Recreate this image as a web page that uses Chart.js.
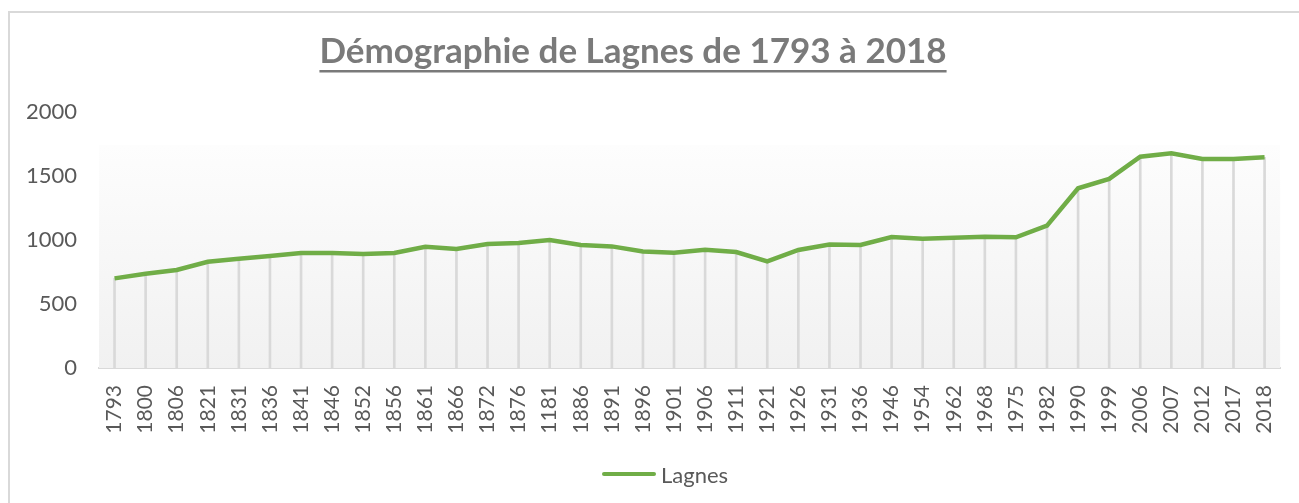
<!DOCTYPE html>
<html lang="fr">
<head>
<meta charset="utf-8">
<title>Démographie de Lagnes</title>
<script src="https://cdn.jsdelivr.net/npm/chart.js@4.4.0/dist/chart.umd.min.js"></script>
<style>
    html, body { margin: 0; padding: 0; background: #fff; overflow: hidden; }
    #frame {
        position: absolute; left: 8px; top: 11px; width: 1400px; height: 600px;
        border-left: 2px solid #d9d9d9; border-top: 2px solid #d9d9d9;
    }
    /* shifted left a little so the title lands where it sits in the original */
    #wrap { position: absolute; left: -16px; top: 0; width: 1315px; height: 503px; }
    #legend {
        position: absolute; left: 602px; top: 460px; height: 28px;
        display: flex; align-items: center;
        font-family: Lato, sans-serif; font-size: 22px; color: #595959;
    }
    #legend .swatch {
        display: inline-block; width: 54px; height: 4px; border-radius: 2px;
        margin-right: 5px; background: #70ad47;
    }
</style>
</head>
<body>
<div id="frame"></div>
<div id="wrap"><canvas id="demoChart"></canvas></div>
<div id="legend"></div>
<script>
// ========================================
// Data
// ========================================

const years = [
    '1793', '1800', '1806', '1821', '1831', '1836', '1841', '1846', '1852', '1856',
    '1861', '1866', '1872', '1876', '1181', '1886', '1891', '1896', '1901', '1906',
    '1911', '1921', '1926', '1931', '1936', '1946', '1954', '1962', '1968', '1975',
    '1982', '1990', '1999', '2006', '2007', '2012', '2017', '2018'
];

const population = [
    700, 737, 766, 830, 854, 875, 898, 898, 890, 898,
    947, 930, 969, 977, 1000, 961, 950, 911, 901, 924,
    906, 833, 922, 964, 961, 1023, 1010, 1018, 1026, 1021,
    1112, 1404, 1477, 1651, 1677, 1633, 1633, 1646
];

const yTicks = [0, 500, 1000, 1500, 2000];

const seriesName = 'Lagnes';
const titleText = 'Démographie de Lagnes de 1793 à 2018';

// ========================================
// Chart Logic
// ========================================

const GREEN = '#70ad47';
const TEXT = '#595959';

// light gradient behind the plot, like the Excel plot area fill
const plotFill = {
    id: 'plotFill',
    beforeDatasetsDraw(chart) {
        const { ctx, chartArea: a } = chart;
        const top = a.top + 33;
        const g = ctx.createLinearGradient(0, top, 0, a.bottom);
        g.addColorStop(0, '#fdfdfd');
        g.addColorStop(1, '#f1f1f1');
        ctx.save();
        ctx.fillStyle = g;
        ctx.fillRect(a.left, top, a.right - a.left, a.bottom - top);
        ctx.restore();
    }
};

// underline under the title text
const titleUnderline = {
    id: 'titleUnderline',
    afterDraw(chart) {
        const tb = chart.titleBlock;
        if (!tb) return;
        const { ctx } = chart;
        const opts = chart.options.plugins.title;
        ctx.save();
        ctx.font = `bold ${opts.font.size}px ${opts.font.family}`;
        const w = ctx.measureText(titleText).width;
        const cx = (tb.left + tb.right) / 2;
        const y = tb.top + opts.padding.top + opts.font.size * 1.2 / 2 + opts.font.size * 0.55;
        ctx.strokeStyle = opts.color;
        ctx.lineWidth = 2.5;
        ctx.beginPath();
        ctx.moveTo(cx - w / 2, y);
        ctx.lineTo(cx + w / 2, y);
        ctx.stroke();
        ctx.restore();
    }
};

// simple legend under the chart
const legendEl = document.getElementById('legend');
const sw = document.createElement('span');
sw.className = 'swatch';
legendEl.appendChild(sw);
legendEl.appendChild(document.createTextNode(seriesName));

const ctx = document.getElementById('demoChart');

try {
    new Chart(ctx.getContext('2d'), {
        data: {
            labels: years,
            datasets: [
                {
                    type: 'line',
                    label: seriesName,
                    data: population,
                    borderColor: GREEN,
                    backgroundColor: GREEN,
                    borderWidth: 4.5,
                    tension: 0,
                    pointRadius: 0,
                    fill: false,
                    order: 0
                },
                {
                    // drop lines from each point to the axis
                    type: 'bar',
                    label: 'drop',
                    data: population,
                    backgroundColor: '#d9d9d9',
                    barThickness: 2,
                    order: 1
                }
            ]
        },
        options: {
            responsive: true,
            maintainAspectRatio: false,
            animation: false,
            layout: { padding: { left: 0, right: 17, top: 0, bottom: 49 } },
            plugins: {
                tooltip: { enabled: false },
                legend: { display: false },
                title: {
                    display: true,
                    text: titleText,
                    color: '#7a7a7a',
                    font: { family: 'Lato', size: 35, weight: 'bold' },
                    padding: { top: 31, bottom: 39 }
                }
            },
            scales: {
                x: {
                    offset: true,
                    grid: { display: false },
                    border: { display: true, color: '#d9d9d9', width: 2 },
                    ticks: {
                        color: TEXT,
                        font: { family: 'Lato', size: 21 },
                        minRotation: 90,
                        maxRotation: 90,
                        autoSkip: false,
                        padding: 9
                    },
                    afterFit: scale => { scale.height = 86; }
                },
                y: {
                    min: yTicks[0],
                    max: yTicks[yTicks.length - 1],
                    grid: { display: false },
                    border: { display: false },
                    afterBuildTicks: scale => { scale.ticks = yTicks.map(v => ({ value: v })); },
                    ticks: {
                        color: TEXT,
                        font: { family: 'Lato', size: 22 },
                        padding: 14,
                        callback: v => String(v)
                    },
                    afterFit: scale => { scale.width = 115; }
                }
            }
        },
        plugins: [plotFill, titleUnderline]
    });
} catch (err) {
    console.error(err);
}
</script>
</body>
</html>
